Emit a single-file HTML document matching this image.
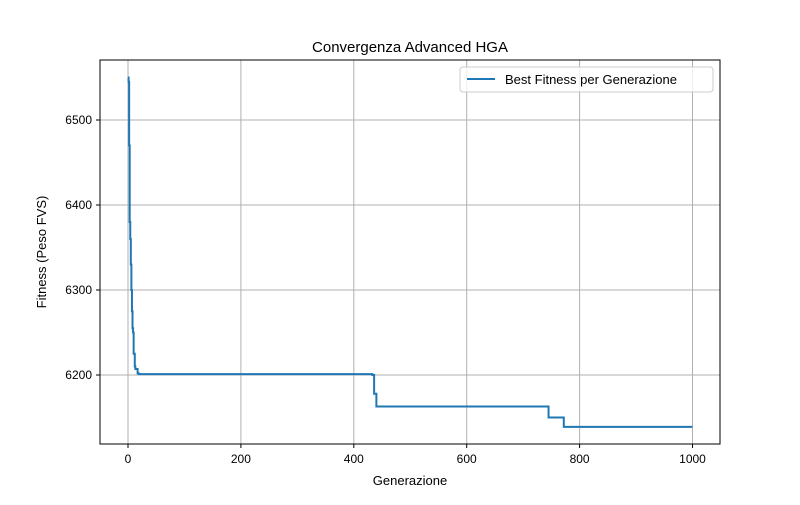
<!DOCTYPE html>
<html><head><meta charset="utf-8"><style>
body{margin:0;background:#fff;font-family:"Liberation Sans",sans-serif}
svg text{font-family:"Liberation Sans",sans-serif;fill:#000}
</style></head><body>
<svg id="chart" width="800" height="500" xmlns="http://www.w3.org/2000/svg">
<rect width="800" height="500" fill="#fff"/>
<g id="grid"></g><g id="ticks"></g><g id="series"></g>
<rect x="100" y="60" width="620" height="384" fill="none" stroke="#000" stroke-width="1"/>
<text x="410" y="52" font-size="15" text-anchor="middle">Convergenza Advanced HGA</text>
<text x="410" y="485" font-size="13" text-anchor="middle">Generazione</text>
<text x="46" y="252" font-size="13" text-anchor="middle" transform="rotate(-90 46 252)">Fitness (Peso FVS)</text>
<g>
<rect x="460" y="67" width="253" height="25" rx="3" fill="#fff" fill-opacity="0.8" stroke="#ccc"/>
<line x1="467" y1="79" x2="495" y2="79" stroke="#1f77b4" stroke-width="2"/>
<text x="505" y="84" font-size="13">Best Fitness per Generazione</text>
</g>
</svg>
<script>
const gens=[0,1,2,3,4,5,6,7,8,9,10,11,12,13,15,17,19,433,436,440,745,772,1000];
const fits=[6550,6545,6470,6380,6360,6330,6300,6275,6255,6250,6225,6225,6210,6207,6207,6202,6201,6200,6178,6163,6150,6139,6139];
const xTicks=[0,200,400,600,800,1000];
const yTicks=[6200,6300,6400,6500];
const X=v=>128+v*0.5645;
const Y=v=>120+(6500-v)*0.85;
const ns="http://www.w3.org/2000/svg";
const grid=document.getElementById('grid'),ticks=document.getElementById('ticks'),ser=document.getElementById('series');
function mk(tag,attrs,parent){const e=document.createElementNS(ns,tag);for(const k in attrs)e.setAttribute(k,attrs[k]);parent.appendChild(e);return e;}
xTicks.forEach(t=>{
 const g=mk('line',{x1:X(t),x2:X(t),y1:60,y2:444,stroke:'#b0b0b0','stroke-width':1},grid);
 
 
 mk('line',{x1:X(t),x2:X(t),y1:444,y2:448,stroke:'#000'},ticks);
 const tx=mk('text',{x:X(t),y:463,'font-size':12,'text-anchor':'middle'},ticks);
 tx.textContent=t;
 
 
});
yTicks.forEach(t=>{
 const g=mk('line',{x1:100,x2:720,y1:Y(t),y2:Y(t),stroke:'#b0b0b0','stroke-width':1},grid);
 
 
 mk('line',{x1:96,x2:100,y1:Y(t),y2:Y(t),stroke:'#000'},ticks);
 const tx=mk('text',{x:92,y:Y(t)+4,'font-size':12,'text-anchor':'end'},ticks);
 tx.textContent=t;
 
 
});
let d='M'+X(gens[0])+','+Y(fits[0]);
for(let i=1;i<gens.length;i++){d+=' L'+X(gens[i])+','+Y(fits[i-1])+' L'+X(gens[i])+','+Y(fits[i]);}
const p=mk('path',{d:d,fill:'none',stroke:'#1f77b4','stroke-width':2},ser);


</script>
</body></html>
